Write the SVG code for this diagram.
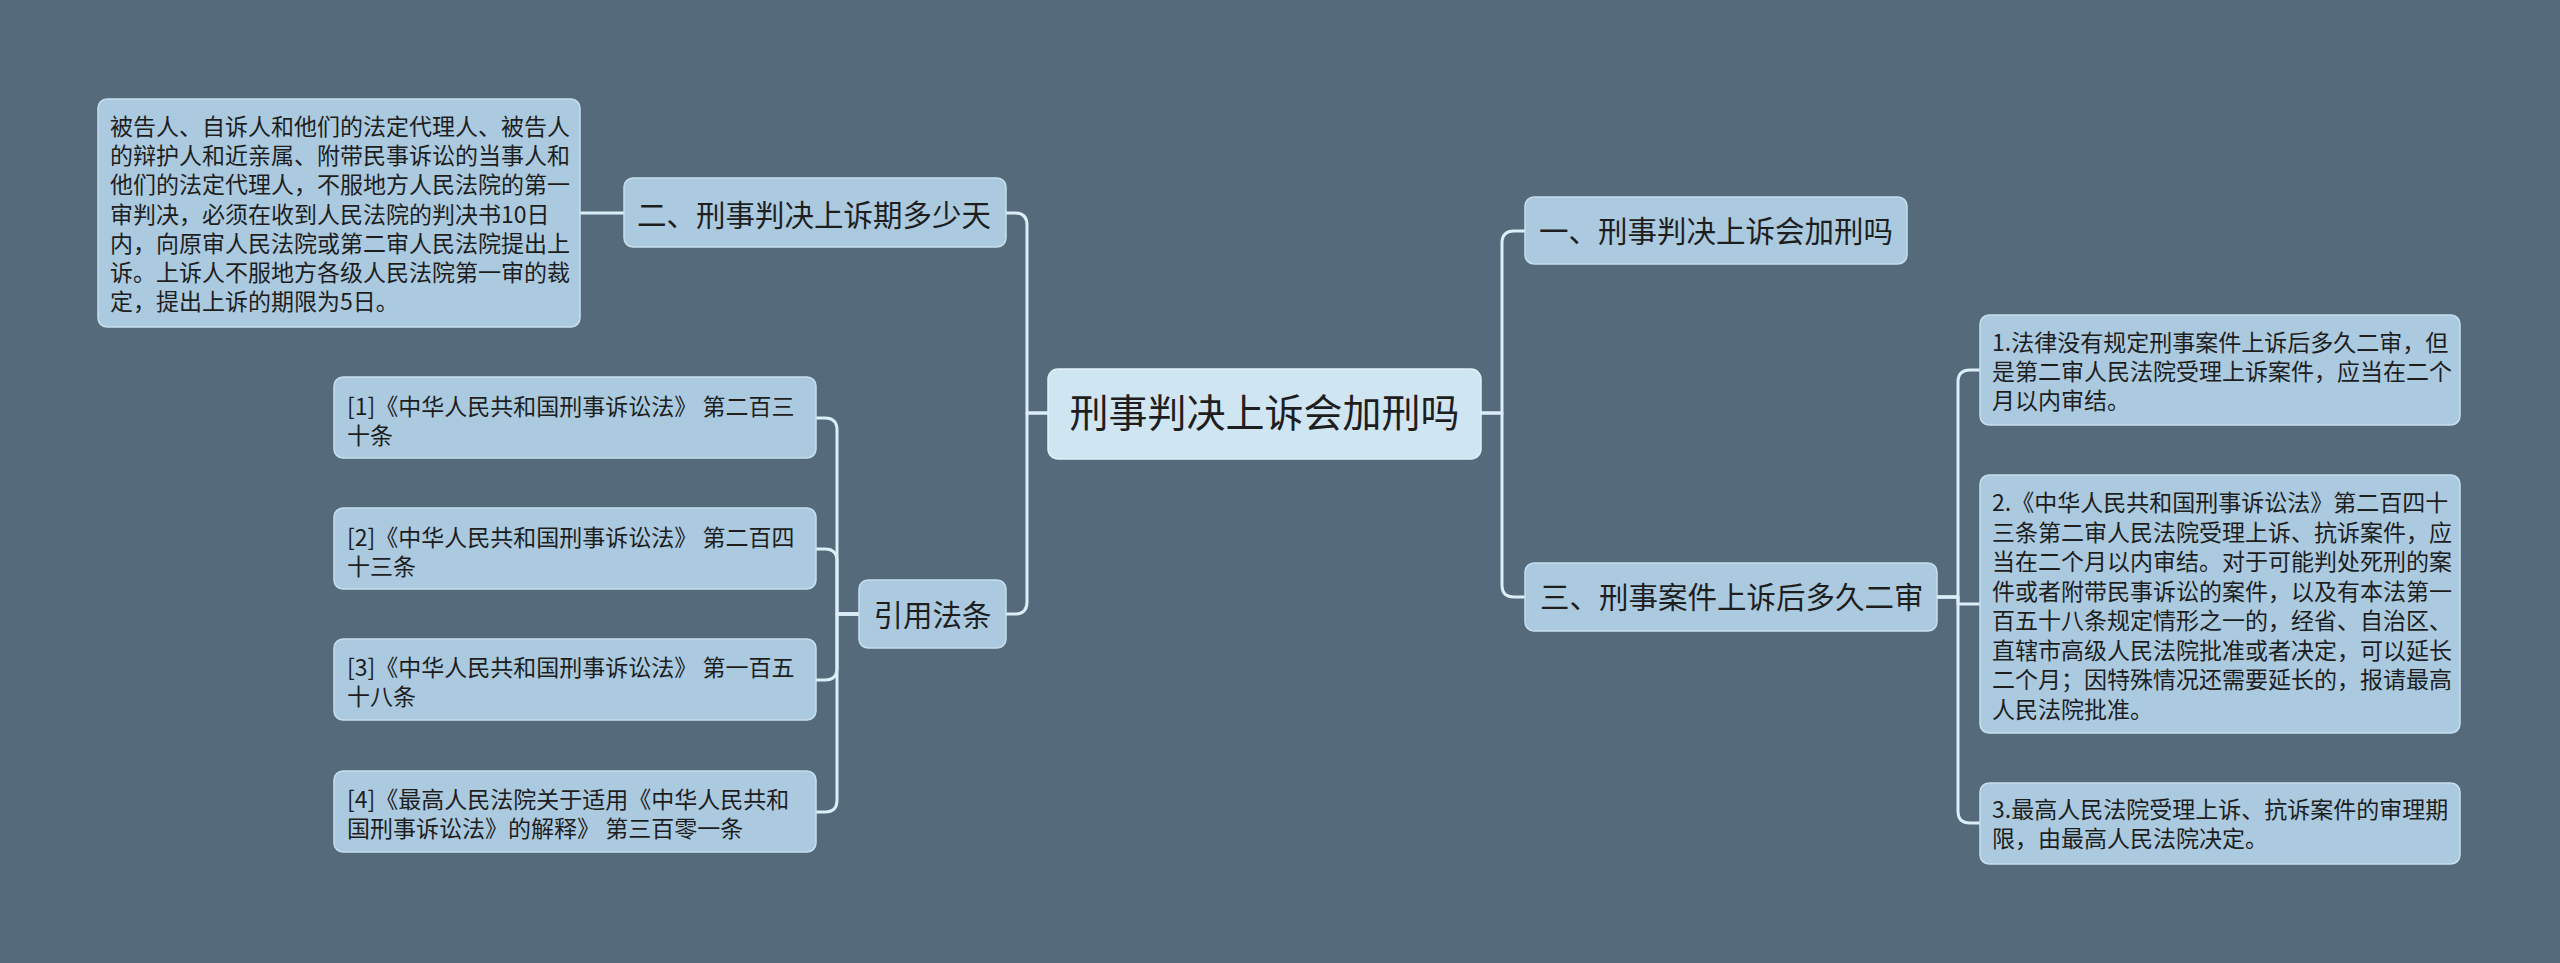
<svg xmlns="http://www.w3.org/2000/svg" width="2560" height="963" viewBox="0 0 2560 963">
<style>
.bg{fill:#556b7b}
.n{fill:#abcae0;stroke:#c6deed;stroke-width:1.5}
.root{fill:#cfe5f1;stroke:#e0eff8;stroke-width:1.5}
text{font-family:"Noto Sans CJK SC","Noto Sans",sans-serif;fill:#1e1e1e}
.s{font-size:23px}
.m{font-size:29.5px}
.r{font-size:39px}
.c{fill:none;stroke:#dcEEf8;stroke-width:3;stroke-linejoin:round;stroke-linecap:round}
</style>
<rect class="bg" x="0" y="0" width="2560" height="963"/>
<g id="connectors">
<path class="c" d="M1048,413 H1027 V225 Q1027,213 1015,213 H1006"/>
<path class="c" d="M1048,413 H1027 V602 Q1027,614 1015,614 H1006"/>
<path class="c" d="M1481,413 H1502 V243 Q1502,231 1514,231 H1525"/>
<path class="c" d="M1481,413 H1502 V585 Q1502,597 1514,597 H1525"/>
<path class="c" d="M624,213 H580"/>
<path class="c" d="M859,614 H837 V430 Q837,418 825,418 H816"/>
<path class="c" d="M859,614 H837 V561 Q837,549 825,549 H816"/>
<path class="c" d="M859,614 H837 V668 Q837,680 825,680 H816"/>
<path class="c" d="M859,614 H837 V800 Q837,812 825,812 H816"/>
<path class="c" d="M1937,597 H1958 V382 Q1958,370 1970,370 H1980"/>
<path class="c" d="M1937,597 H1958 V604 H1980"/>
<path class="c" d="M1937,597 H1958 V811 Q1958,823 1970,823 H1980"/>
</g>
<g id="root">
<rect class="root" x="1048" y="369" width="433" height="90" rx="10"/>
<text class="r" x="1264.5" y="427" text-anchor="middle">刑事判决上诉会加刑吗</text>
</g>
<g id="n-er">
<rect class="n" x="624" y="178" width="382" height="69" rx="9"/>
<text class="m" x="637" y="225.5">二、刑事判决上诉期多少天</text>
</g>
<g id="n-er-detail">
<rect class="n" x="98" y="99" width="482" height="228" rx="9"/>
<text class="s" x="110"><tspan x="110" y="135">被告人、自诉人和他们的法定代理人、被告人</tspan><tspan x="110" y="164.2">的辩护人和近亲属、附带民事诉讼的当事人和</tspan><tspan x="110" y="193.4">他们的法定代理人，不服地方人民法院的第一</tspan><tspan x="110" y="222.6">审判决，必须在收到人民法院的判决书10日</tspan><tspan x="110" y="251.8">内，向原审人民法院或第二审人民法院提出上</tspan><tspan x="110" y="281">诉。上诉人不服地方各级人民法院第一审的裁</tspan><tspan x="110" y="310.2">定，提出上诉的期限为5日。</tspan></text>
</g>
<g id="n-ref">
<rect class="n" x="859" y="580" width="147" height="68" rx="9"/>
<text class="m" x="932.5" y="625.5" text-anchor="middle">引用法条</text>
</g>
<g id="ref-1">
<rect class="n" x="334" y="377" width="482" height="81" rx="9"/>
<text class="s"><tspan x="347" y="415">[1]《中华人民共和国刑事诉讼法》 第二百三</tspan><tspan x="347" y="444">十条</tspan></text>
</g>
<g id="ref-2">
<rect class="n" x="334" y="508" width="482" height="81" rx="9"/>
<text class="s"><tspan x="347" y="546">[2]《中华人民共和国刑事诉讼法》 第二百四</tspan><tspan x="347" y="575">十三条</tspan></text>
</g>
<g id="ref-3">
<rect class="n" x="334" y="639" width="482" height="81" rx="9"/>
<text class="s"><tspan x="347" y="676">[3]《中华人民共和国刑事诉讼法》 第一百五</tspan><tspan x="347" y="705">十八条</tspan></text>
</g>
<g id="ref-4">
<rect class="n" x="334" y="771" width="482" height="81" rx="9"/>
<text class="s"><tspan x="347" y="808">[4]《最高人民法院关于适用《中华人民共和</tspan><tspan x="347" y="837">国刑事诉讼法》的解释》 第三百零一条</tspan></text>
</g>
<g id="n-yi">
<rect class="n" x="1525" y="197" width="382" height="67" rx="9"/>
<text class="m" x="1539" y="242">一、刑事判决上诉会加刑吗</text>
</g>
<g id="n-san">
<rect class="n" x="1525" y="563" width="412" height="68" rx="9"/>
<text class="m" x="1540" y="607.5">三、刑事案件上诉后多久二审</text>
</g>
<g id="san-1">
<rect class="n" x="1980" y="315" width="480" height="110" rx="9"/>
<text class="s"><tspan x="1992" y="351">1.法律没有规定刑事案件上诉后多久二审，但</tspan><tspan x="1992" y="380">是第二审人民法院受理上诉案件，应当在二个</tspan><tspan x="1992" y="409">月以内审结。</tspan></text>
</g>
<g id="san-2">
<rect class="n" x="1980" y="475" width="480" height="258" rx="9"/>
<text class="s"><tspan x="1992" y="511">2.《中华人民共和国刑事诉讼法》第二百四十</tspan><tspan x="1992" y="540.5">三条第二审人民法院受理上诉、抗诉案件，应</tspan><tspan x="1992" y="570">当在二个月以内审结。对于可能判处死刑的案</tspan><tspan x="1992" y="599.5">件或者附带民事诉讼的案件，以及有本法第一</tspan><tspan x="1992" y="629">百五十八条规定情形之一的，经省、自治区、</tspan><tspan x="1992" y="658.5">直辖市高级人民法院批准或者决定，可以延长</tspan><tspan x="1992" y="688">二个月；因特殊情况还需要延长的，报请最高</tspan><tspan x="1992" y="717.5">人民法院批准。</tspan></text>
</g>
<g id="san-3">
<rect class="n" x="1980" y="783" width="480" height="81" rx="9"/>
<text class="s"><tspan x="1992" y="818">3.最高人民法院受理上诉、抗诉案件的审理期</tspan><tspan x="1992" y="847">限，由最高人民法院决定。</tspan></text>
</g>
</svg>
